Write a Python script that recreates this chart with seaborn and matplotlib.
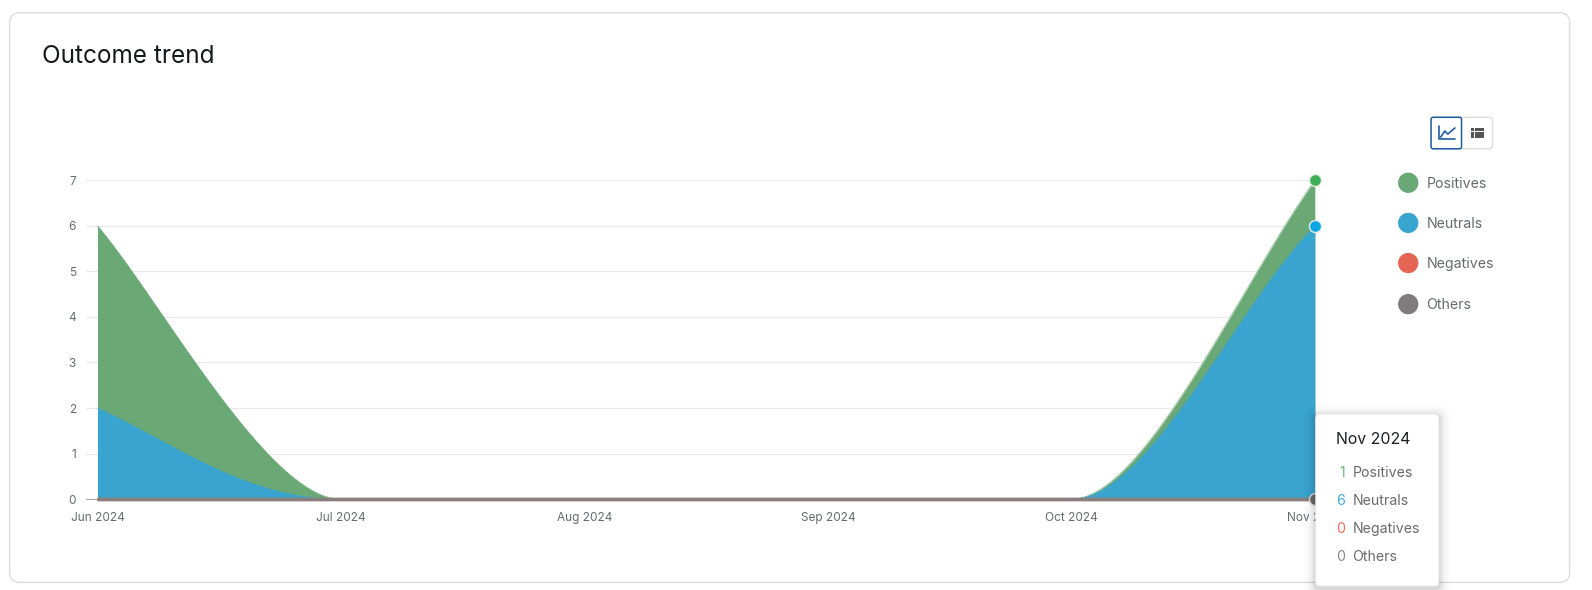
import numpy as np
import pandas as pd
import seaborn as sns
import matplotlib.pyplot as plt
from matplotlib.patches import FancyBboxPatch, Circle, Rectangle

months = ['Jun 2024', 'Jul 2024', 'Aug 2024', 'Sep 2024', 'Oct 2024', 'Nov 2024']
positives = [4, 0, 0, 0, 0, 1]
neutrals = [2, 0, 0, 0, 0, 6]
negatives = [0, 0, 0, 0, 0, 0]
others = [0, 0, 0, 0, 0, 0]
names = ['Positives', 'Neutrals', 'Negatives', 'Others']
yticks = [0, 1, 2, 3, 4, 5, 6, 7]

GREEN = '#6aa876'
BLUE = '#38a4cf'
RED = '#e56555'
GRAY = '#857f80'
TEXT = '#666a6e'


# chart spline through the monthly values
# first / last are the bezier handles of the end segments as (x1, done1, x2, done2)
def spline(vals, first, last):
    xs, ys = [], []
    s = np.linspace(0, 1, 80)
    for i in range(len(vals) - 1):
        x1, d1, x2, d2 = (0.33, 0, 0.67, 1)
        if i == 0:
            x1, d1, x2, d2 = first
        if i == len(vals) - 2:
            x1, d1, x2, d2 = last
        bx = 3*s*(1 - s)**2*x1 + 3*s**2*(1 - s)*x2 + s**3
        bd = 3*s*(1 - s)**2*d1 + 3*s**2*(1 - s)*d2 + s**3
        xs.append(i + bx)
        ys.append(vals[i] + (vals[i + 1] - vals[i])*bd)
    return np.concatenate(xs), np.concatenate(ys)


total = [p + n for p, n in zip(positives, neutrals)]
x_total, y_total = spline(total, (0.25, 0.26, 0.7, 1), (0.3, 0, 0.7, 0.68))
x_neut, y_neut = spline(neutrals, (0.3, 0.36, 0.6, 1), (0.32, 0, 0.7, 0.74))

sns.set_theme(style='white')
plt.rcParams['font.family'] = ['Inter', 'DejaVu Sans']

fig = plt.figure(figsize=(15.92, 5.9), dpi=100, facecolor='white')
# layout numbers below are in this coordinate space, it maps onto the whole figure
W, H = 1568, 581

# card behind everything
bg = fig.add_axes([0, 0, 1, 1], zorder=-1)
bg.set_xlim(0, W)
bg.set_ylim(H, 0)
bg.axis('off')
bg.add_patch(FancyBboxPatch((9.5, 12.5), 1536.5, 561, boxstyle='round,pad=0,rounding_size=10',
                            fc='white', ec='#dcdcdc', lw=1))

left, right, bottom, top = 85, 1295, 491.5, 177.5
ax = fig.add_axes([left / W, 1 - bottom / H, (right - left) / W, (bottom - top) / H])
ax.patch.set_alpha(0)

ax.fill_between(x_total, 0, y_total, color=GREEN, lw=0, zorder=2)
ax.fill_between(x_neut, 0, y_neut, color=BLUE, lw=0, zorder=3)
sns.lineplot(x=x_total, y=y_total, color=GREEN, lw=0.4, estimator=None, sort=False, ax=ax, zorder=2)
sns.lineplot(x=x_neut, y=y_neut, color=BLUE, lw=0.4, estimator=None, sort=False, ax=ax, zorder=3)

idx = np.arange(len(months))
ax.axhline(0, color='#a8a8a8', lw=0.8, zorder=1, clip_on=False)
sns.lineplot(x=idx, y=negatives, color=RED, lw=2.4, estimator=None, ax=ax, zorder=4, clip_on=False, solid_capstyle='butt')
sns.lineplot(x=idx, y=others, color=GRAY, lw=2.5, estimator=None, ax=ax, zorder=5, clip_on=False, solid_capstyle='butt')

# hover markers on the last month
sns.scatterplot(x=[5], y=[total[-1]], color='#41ae5a', s=75, edgecolor='#e4ece6', linewidth=1, ax=ax, zorder=6, clip_on=False)
sns.scatterplot(x=[5], y=[neutrals[-1]], color='#0ea5e0', s=75, edgecolor='#dcecf2', linewidth=1, ax=ax, zorder=6, clip_on=False)
sns.scatterplot(x=[5], y=[others[-1]], color='#6d6a6b', s=75, edgecolor='#dddddd', linewidth=1, ax=ax, zorder=6, clip_on=False)

ax.set_xlim(-(96 - left) / ((right - 96) / 5), 5)
ax.set_ylim(0, 7)
ax.set_xticks(idx, months)
ax.set_yticks(yticks)
ax.set_xlabel('')
ax.set_ylabel('')
ax.tick_params(axis='x', length=0, pad=9, labelsize=8.5, labelcolor=TEXT)
ax.tick_params(axis='y', length=0, pad=7.5, labelsize=8.5, labelcolor=TEXT)
ax.grid(axis='y', color='#e8e8e8', lw=0.8, zorder=0)
ax.set_axisbelow(True)
sns.despine(ax=ax, left=True, bottom=True, top=True, right=True)

# overlay for title, legend, buttons and tooltip
ov = fig.add_axes([0, 0, 1, 1], zorder=10)
ov.set_xlim(0, W)
ov.set_ylim(H, 0)
ov.axis('off')

ov.text(41, 55.5, 'Outcome trend', fontsize=17.5, color='#16181c', va='center', ha='left')

for name, col, y in zip(names, [GREEN, BLUE, RED, '#7f7c7d'], [180, 219.5, 259, 299.5]):
    ov.add_patch(Circle((1387, y), 10, fc=col, ec='none'))
    ov.text(1405, y + 1, name, fontsize=10.2, color=TEXT, va='center', ha='left')

# chart / table toggle
ov.add_patch(FancyBboxPatch((1409.5, 115.5), 60.5, 31, boxstyle='round,pad=0,rounding_size=3', fc='white', ec='#dddddd', lw=1))
ov.add_patch(FancyBboxPatch((1409.5, 115.5), 30, 31, boxstyle='round,pad=0,rounding_size=2', fc='white', ec='#1f5da0', lw=1.1))
ov.plot([1417.5, 1417.5, 1433], [124, 137, 137], color='#1f5da0', lw=1.2)
ov.plot([1419, 1423, 1426, 1433], [135, 129, 132, 126], color='#1f5da0', lw=1.2)
for y in [126, 129.6, 133.2]:
    ov.add_patch(Rectangle((1449, y), 3, 3.1, fc='#555555', ec='none'))
    ov.add_patch(Rectangle((1452.6, y), 9, 3.1, fc='#555555', ec='none'))

# tooltip with soft shadow
for grow, alpha in zip([12, 9, 6, 4, 2], [0.012, 0.02, 0.03, 0.04, 0.05]):
    ov.add_patch(FancyBboxPatch((1296 - grow, 408 - grow + 2), 121 + 2*grow, 169 + 2*grow,
                                boxstyle='round,pad=0,rounding_size=%d' % (4 + grow), fc='black', ec='none', alpha=alpha))
ov.add_patch(FancyBboxPatch((1296, 408), 121, 169, boxstyle='round,pad=0,rounding_size=4', fc='white', ec='#eeeeee', lw=0.8))
ov.text(1316, 432.5, months[-1], fontsize=11.4, color='#1c1e21', va='center', ha='left')
tip_vals = [positives[-1], neutrals[-1], negatives[-1], others[-1]]
tip_cols = ['#6db37f', '#45a9dc', '#ef6a5e', '#888888']
for name, v, col, y in zip(names, tip_vals, tip_cols, [466, 493.5, 521, 548.5]):
    ov.text(1324.5, y, str(v), fontsize=10.2, color=col, va='center', ha='right')
    ov.text(1332, y, name, fontsize=10.2, color='#6b6b6b', va='center', ha='left')

plt.savefig('out.png', dpi=100)
